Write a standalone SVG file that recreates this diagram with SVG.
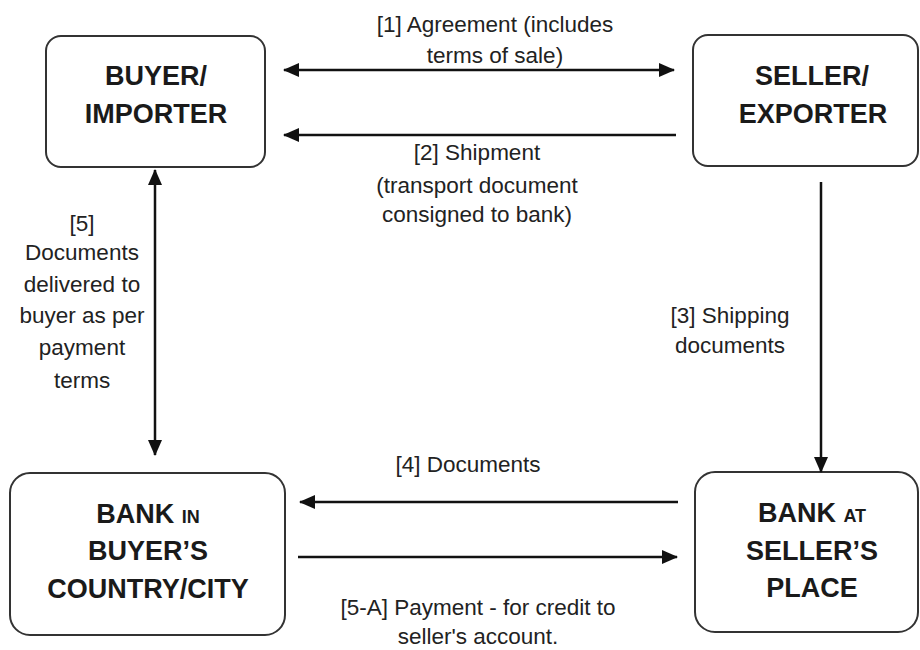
<svg xmlns="http://www.w3.org/2000/svg" width="920" height="650" viewBox="0 0 920 650">
<style>
.box{fill:#fff;stroke:#333;stroke-width:2}
.nt{font-family:"Liberation Sans",Arial,sans-serif;font-weight:bold;font-size:27px;fill:#1a1a1a;text-anchor:middle}
.sm{font-size:18px}
.lb{font-family:"Liberation Sans",Arial,sans-serif;font-size:22.5px;fill:#222;text-anchor:middle}
.ar{stroke:#111;stroke-width:2.5;fill:none;marker-end:url(#ah)}
.dar{stroke:#111;stroke-width:2.5;fill:none;marker-end:url(#ah);marker-start:url(#ah)}
</style>
<defs>
<marker id="ah" viewBox="0 0 16 14" refX="15" refY="7" markerWidth="16" markerHeight="14" markerUnits="userSpaceOnUse" orient="auto-start-reverse">
<path d="M0,0 L16,7 L0,14 z" fill="#111"/>
</marker>
</defs>
<rect width="920" height="650" fill="#fff"/>
<g id="buyer">
<rect class="box" x="46" y="36" width="219" height="131" rx="15"/>
<text class="nt" x="156" y="85">BUYER/</text>
<text class="nt" x="156" y="123">IMPORTER</text>
</g>
<g id="seller">
<rect class="box" x="693" y="35" width="225" height="131" rx="15"/>
<text class="nt" x="812" y="85">SELLER/</text>
<text class="nt" x="813" y="123">EXPORTER</text>
</g>
<g id="bank-buyer">
<rect class="box" x="10" y="473" width="275" height="162" rx="20"/>
<text class="nt" x="148" y="523">BANK <tspan class="sm">IN</tspan></text>
<text class="nt" x="148" y="560">BUYER’S</text>
<text class="nt" x="148" y="598">COUNTRY/CITY</text>
</g>
<g id="bank-seller">
<rect class="box" x="695" y="472" width="223" height="160" rx="20"/>
<text class="nt" x="812" y="522">BANK <tspan class="sm">AT</tspan></text>
<text class="nt" x="812" y="560">SELLER’S</text>
<text class="nt" x="812" y="597">PLACE</text>
</g>
<g id="connectors">
<line class="dar" x1="284" y1="70" x2="674" y2="70"/>
<line class="ar" x1="676" y1="135" x2="284" y2="135"/>
<line class="ar" x1="821" y1="182" x2="821" y2="472"/>
<line class="ar" x1="678" y1="502" x2="300" y2="502"/>
<line class="ar" x1="298" y1="557" x2="677" y2="557"/>
<line class="dar" x1="155" y1="170" x2="155" y2="455"/>
</g>
<g id="labels">
<text class="lb" x="495" y="32">[1] Agreement (includes</text>
<text class="lb" x="495" y="63">terms of sale)</text>
<text class="lb" x="477" y="160">[2] Shipment</text>
<text class="lb" x="477" y="193">(transport document</text>
<text class="lb" x="477" y="222">consigned to bank)</text>
<text class="lb" x="730" y="323">[3] Shipping</text>
<text class="lb" x="730" y="353">documents</text>
<text class="lb" x="468" y="472">[4] Documents</text>
<text class="lb" x="478" y="615">[5-A] Payment - for credit to</text>
<text class="lb" x="478" y="644">seller's account.</text>
<text class="lb" x="82" y="231">[5]</text>
<text class="lb" x="82" y="260">Documents</text>
<text class="lb" x="82" y="292">delivered to</text>
<text class="lb" x="82" y="323">buyer as per</text>
<text class="lb" x="82" y="355">payment</text>
<text class="lb" x="82" y="388">terms</text>
</g>
</svg>
